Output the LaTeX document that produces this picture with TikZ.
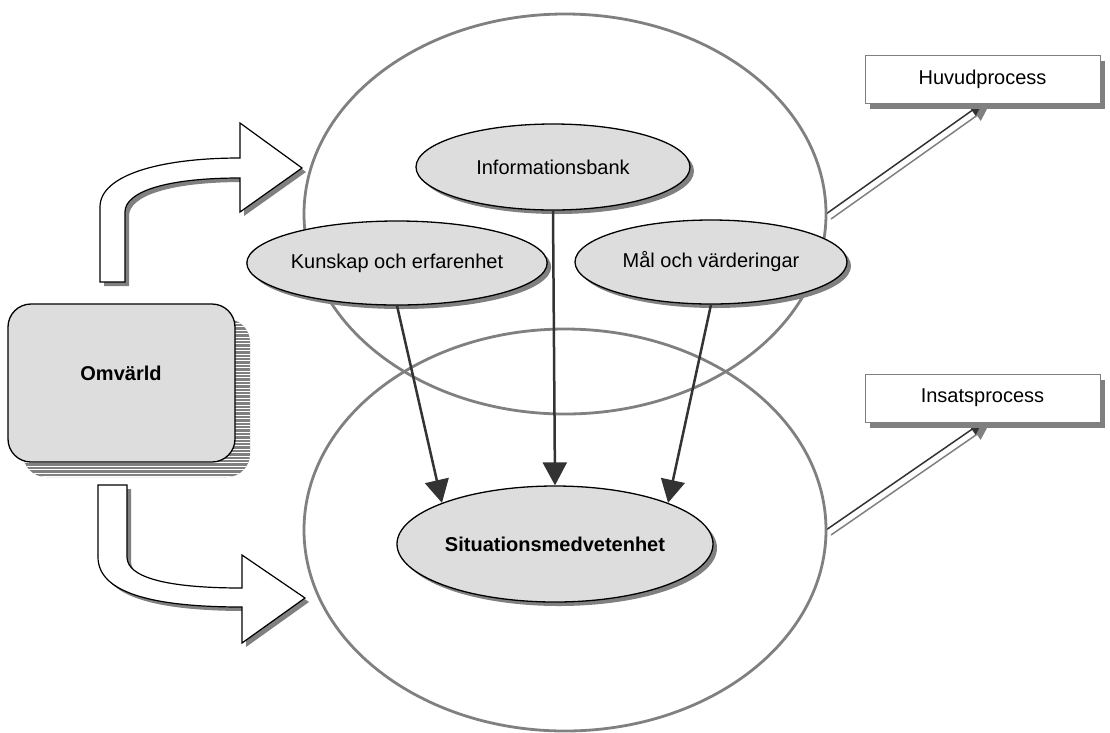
\documentclass[tikz,border=0pt]{standalone}
\usepackage{fontspec}
\setmainfont{Liberation Sans}
\usetikzlibrary{shapes.geometric,arrows.meta,shadows}
\definecolor{shade}{HTML}{DDDDDD}
\definecolor{shadowgray}{HTML}{808080}
\definecolor{ink}{HTML}{333333}
\pgfdeclarelayer{links}
\pgfsetlayers{links,main}

\begin{document}
\begin{tikzpicture}[x=1pt,y=-1pt,
  font=\fontsize{20}{24}\selectfont,
  bigring/.style={ellipse, draw=shadowgray, line width=2.8pt, inner sep=0pt, outer sep=0pt},
  concept/.style={ellipse, draw=black, line width=1.3pt, fill=shade, inner sep=0pt,
    minimum width=272pt, minimum height=84pt,
    drop shadow={shadow xshift=4pt, shadow yshift=-4pt, fill=shadowgray, opacity=1}},
  procbox/.style={rectangle, draw=shadowgray, line width=1pt, fill=white, inner sep=0pt,
    minimum width=235pt, minimum height=48pt, outer sep=0pt,
    drop shadow={shadow xshift=5pt, shadow yshift=-6pt, fill=shadowgray, opacity=1}},
  flow/.style={draw=ink, line width=2.5pt, -{Triangle[length=23pt,width=24pt]}},
  relay/.style={line width=1.5pt, -{Triangle[length=13pt,width=13pt]}},
  blockarrow/.style={draw=black, line width=1.2pt, fill=white},
  blockshadow/.style={fill=shadowgray, draw=none},
]
\useasboundingbox (0,0) rectangle (1110,732);

% the two large overlapping rings
\node[bigring, minimum width=522pt, minimum height=400pt] (upper) at (565,214) {};
\node[bigring, minimum width=522pt, minimum height=402pt] (lower) at (565,530) {};

% process boxes
\node[procbox] (huv) at (982.5,79) {Huvudprocess};
\node[procbox] (ins) at (982.5,398) {Insatsprocess};

% links from the rings to the process boxes, drawn beneath the boxes
\begin{pgfonlayer}{links}
  \draw[relay, draw=shadowgray, fill=shadowgray, transform canvas={xshift=5pt,yshift=-5pt}] (upper.east) -- (huv.south);
  \draw[relay, draw=ink, fill=ink] (upper.east) -- (huv.south);
  \draw[relay, draw=shadowgray, fill=shadowgray, transform canvas={xshift=5pt,yshift=-5pt}] (lower.east) -- (ins.south);
  \draw[relay, draw=ink, fill=ink] (lower.east) -- (ins.south);
\end{pgfonlayer}

% concepts
\node[concept, minimum width=274pt, minimum height=86pt] (info) at (553,167) {Informationsbank};
\node[concept] (kun) at (397,263) {Kunskap och erfarenhet};
\node[concept] (mal) at (711,262) {Mål och värderingar};
\node[concept, minimum width=316pt, minimum height=116pt, font=\fontsize{20}{24}\selectfont\bfseries] (sit) at (555,544) {Situationsmedvetenhet};

\draw[flow] (kun.south) -- (sit.160);
\draw[flow] (info.south) -- (sit.north);
\draw[flow] (mal.south) -- (sit.20);

% bent block arrows out of the environment box
\def\upperarrow{(100,282) -- (100,207) .. controls (100,175) and (160,158) .. (240,158)
  -- (240,123) -- (302,168) -- (240,212) -- (240,178)
  .. controls (165,178) and (125,192) .. (125,212) -- (125,282) -- cycle}
\def\lowerarrow{(98,485) -- (127,485) -- (127,557) .. controls (127,577) and (165,588) .. (242,588)
  -- (242,555) -- (305,598) -- (242,643) -- (242,607)
  .. controls (150,607) and (98,592) .. (98,557) -- cycle}
\begin{scope}[shift={(4,4)}]
  \path[blockshadow] \upperarrow;
  \path[blockshadow] \lowerarrow;
\end{scope}
\path[blockarrow] \upperarrow;
\path[blockarrow] \lowerarrow;

% environment box with striped shadow
\fill[shadowgray, rounded corners=23pt] (23,319) rectangle (250,477);
\begin{scope}
  \clip[rounded corners=23pt] (23,319) rectangle (250,477);
  \foreach \yy in {0,...,47} \draw[white, line width=0.8pt] (20,320+3.4*\yy) -- (255,320+3.4*\yy);
\end{scope}
\node[draw=black, line width=1.3pt, fill=shade, rounded corners=23pt, inner sep=0pt,
  minimum width=227pt, minimum height=158pt] (omv) at (121.5,383) {};
\node[font=\fontsize{20}{24}\selectfont\bfseries] (omvlabel) at (121,373) {Omvärld};
\end{tikzpicture}
\end{document}
